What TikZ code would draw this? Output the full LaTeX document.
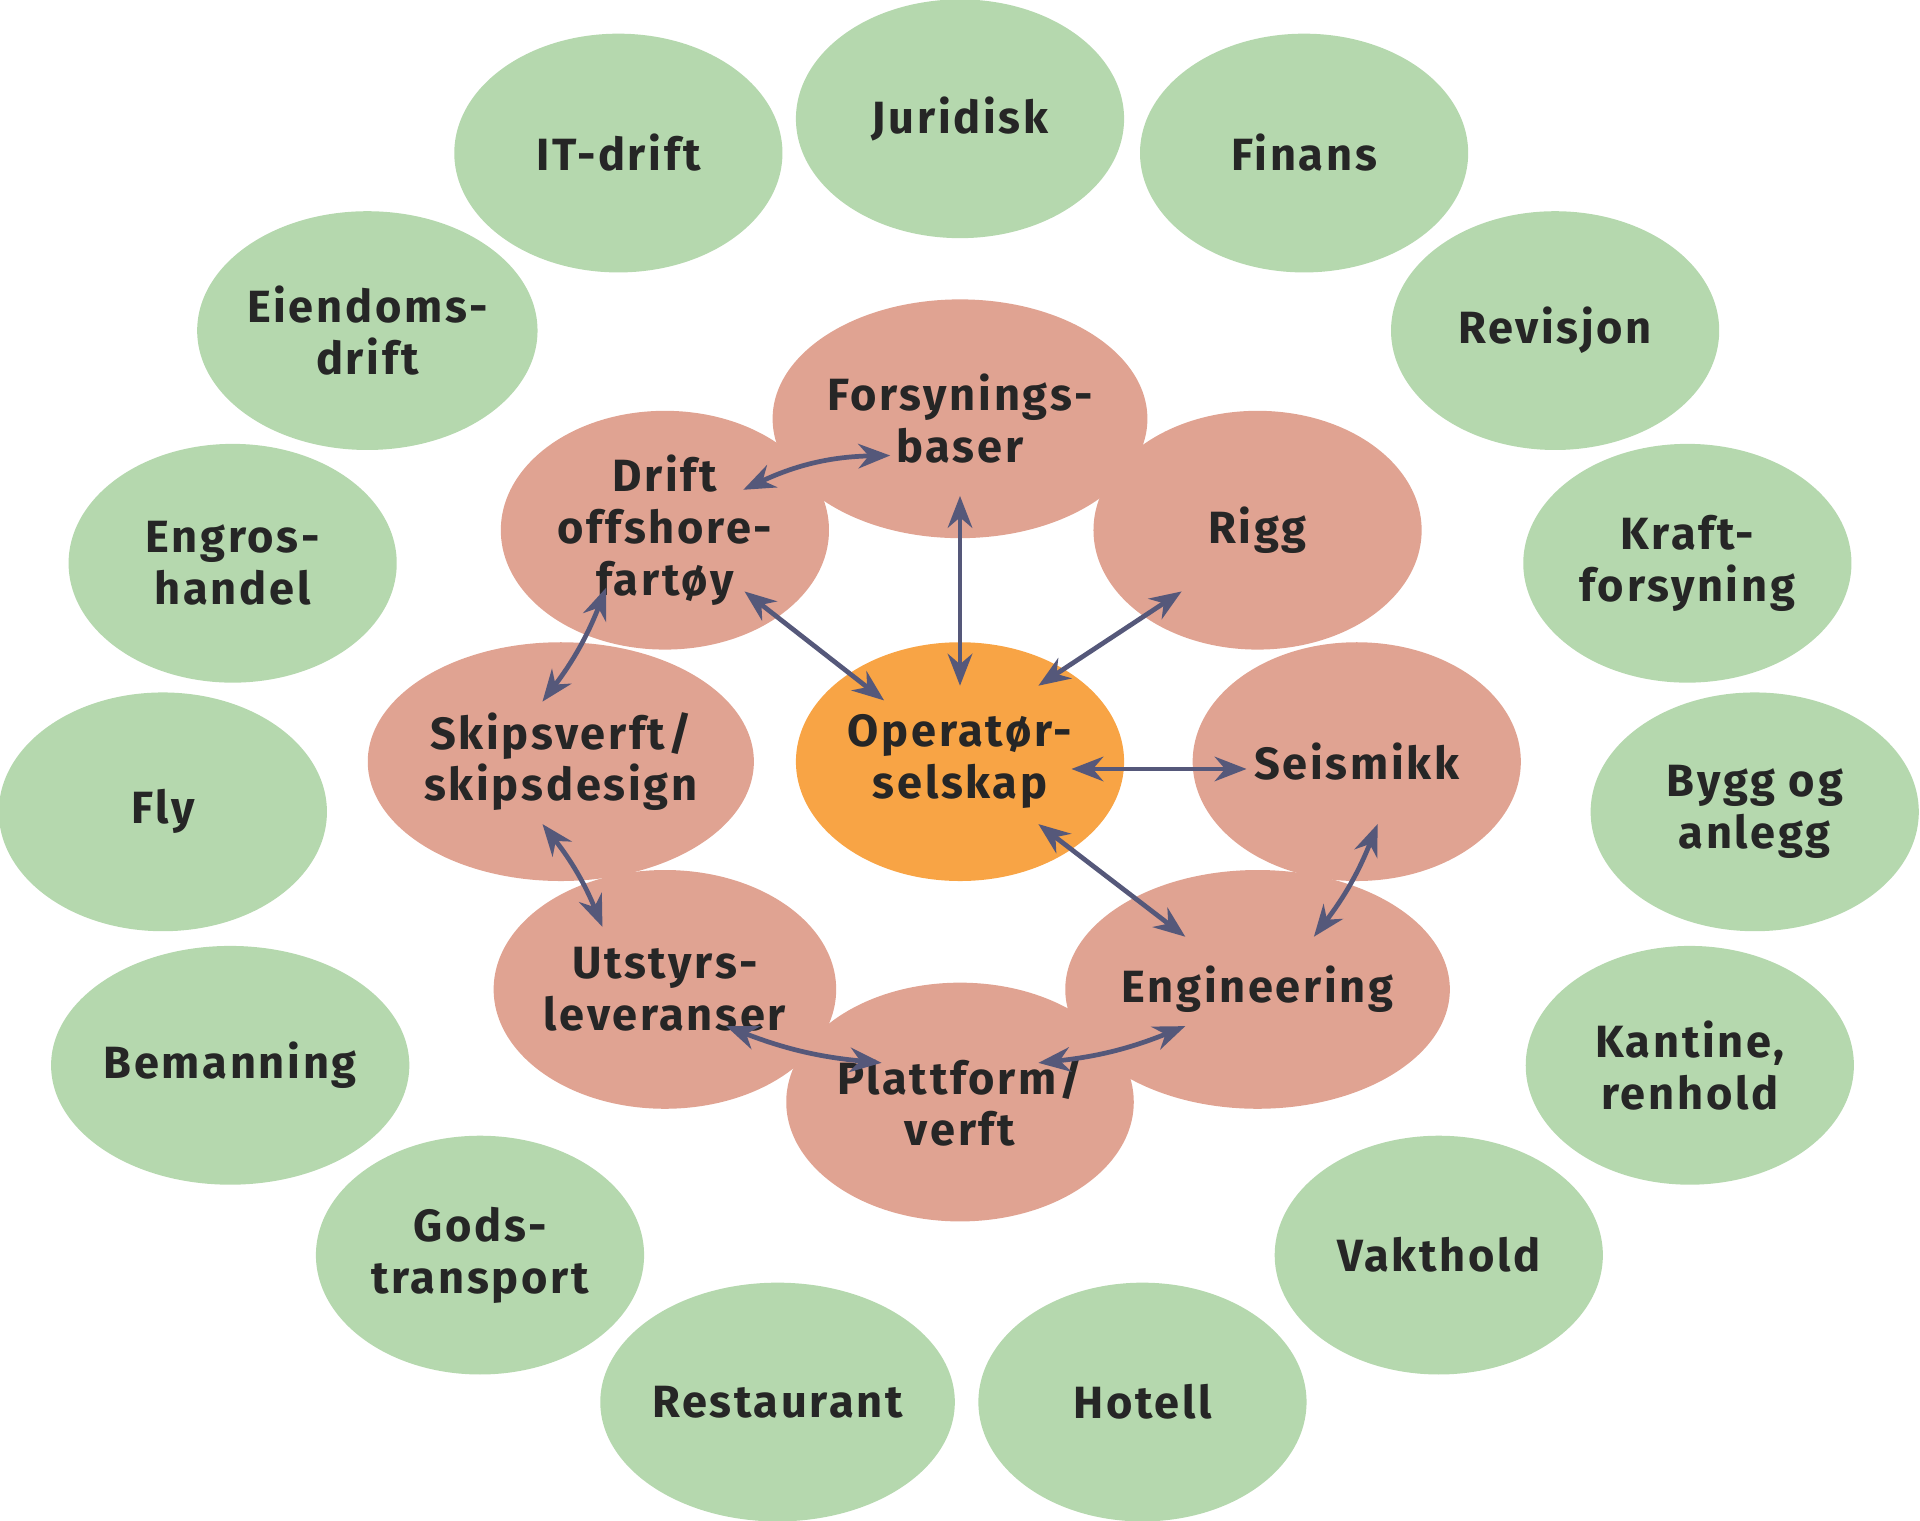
\documentclass[tikz,border=0pt]{standalone}
\usepackage{fontspec}
\setmainfont{Fira Sans}
\usetikzlibrary{shapes.geometric}
\usetikzlibrary{calc}
\usetikzlibrary{arrows.meta}
\definecolor{gronn}{HTML}{B5D8AE}
\definecolor{rod}{HTML}{E0A392}
\definecolor{oransje}{HTML}{F8A445}
\definecolor{pil}{HTML}{55587A}

\begin{document}
\begin{tikzpicture}[
  boble/.style = {ellipse, minimum width = 2.68cm, minimum height = 1.95cm, inner sep = 0pt, align = center,
    font = \fontsize{10.5}{12}\selectfont\bfseries\addfontfeatures{LetterSpace=6}, text = black!85},
  ytre/.style = {boble, fill = gronn},
  indre/.style = {boble, fill = rod},
  pilen/.style = {{Stealth[length = 2.6mm, width = 2mm]}-{Stealth[length = 2.6mm, width = 2mm]}, pil, line width = 1.1pt}]
\useasboundingbox (0, 0) rectangle (15.68, -12.42);
% ytre ring
\foreach \x/\y/\navn/\tekst in {5.05/1.25/it/IT-drift, 7.84/0.97/jur/Juridisk, 10.65/1.25/fin/Finans,
  12.70/2.70/rev/Revisjon, 13.78/4.60/kraft/{Kraft-\\forsyning}, 14.33/6.63/bygg/{Bygg og\\anlegg},
  13.80/8.70/kant/{Kantine,\\renhold}, 11.75/10.25/vakt/Vakthold, 9.33/11.45/hot/Hotell,
  6.35/11.45/rest/Restaurant, 3.92/10.25/gods/{Gods-\\transport}, 1.88/8.70/bem/Bemanning,
  1.33/6.63/fly/Fly, 1.90/4.60/engros/{Engros-\\handel}, 3.00/2.70/eiend/{Eiendoms-\\drift}}
  \node[ytre] (\navn) at (\x, -\y) {\tekst};
% indre ring
\node[indre] (fors) at (7.84, -3.42) {Forsynings-\\baser};
\node[indre] (rigg) at (10.27, -4.33) {Rigg};
\node[indre] (seis) at (11.08, -6.22) {Seismikk};
\node[indre] (eng) at (10.27, -8.08) {Engineering};
\node[indre] (platt) at (7.84, -9.00) {Plattform/\\verft};
\node[indre] (uts) at (5.43, -8.08) {Utstyrs-\\leveranser};
\node[indre] (skip) at (4.58, -6.22) {Skipsverft/\\skipsdesign};
\node[indre] (drift) at (5.43, -4.33) {Drift\\offshore-\\fartøy};
\node[boble, fill = oransje] (oper) at (7.84, -6.22) {Operatør-\\selskap};
% piler
\draw[pilen] ($(oper)+(0, 0.62)$) -- ($(fors)+(0, -0.63)$);
\draw[pilen] ($(oper)+(-0.62, 0.50)$) -- ($(drift)+(0.65, -0.50)$);
\draw[pilen] ($(oper)+(0.64, 0.62)$) -- ($(rigg)+(-0.62, -0.50)$);
\draw[pilen] ($(oper)+(0.91, -0.06)$) -- ($(seis)+(-0.90, -0.06)$);
\draw[pilen] ($(oper)+(0.64, -0.51)$) -- ($(eng)+(-0.59, 0.43)$);
\draw[pilen] ($(drift)+(0.64, 0.33)$) to[bend left = 12] ($(fors)+(-0.57, -0.30)$);
\draw[pilen] ($(skip)+(-0.15, 0.49)$) to[bend right = 8] ($(drift)+(-0.48, -0.47)$);
\draw[pilen] ($(skip)+(-0.15, -0.51)$) to[bend left = 8] ($(uts)+(-0.51, 0.51)$);
\draw[pilen] ($(uts)+(0.50, -0.30)$) to[bend right = 8] ($(platt)+(-0.64, 0.32)$);
\draw[pilen] ($(platt)+(0.64, 0.32)$) to[bend right = 8] ($(eng)+(-0.59, -0.30)$);
\draw[pilen] ($(eng)+(0.46, 0.43)$) to[bend right = 8] ($(seis)+(0.17, -0.51)$);
\end{tikzpicture}
\end{document}
